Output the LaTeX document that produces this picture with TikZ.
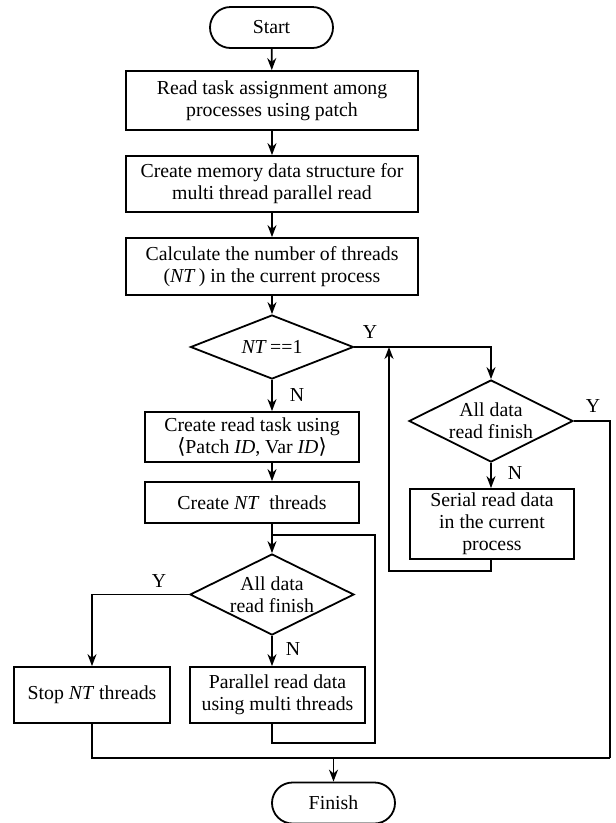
\documentclass[tikz,border=0pt]{standalone}
\usepackage{fontspec}
\setmainfont{Liberation Serif}
\newfontfamily\bracketfont{DejaVu Sans}
\usetikzlibrary{shapes.geometric,shapes.misc,arrows.meta}
\newcommand{\lang}{{\bracketfont\fontsize{21}{22}\selectfont ⟨}}
\newcommand{\rang}{{\bracketfont\fontsize{21}{22}\selectfont ⟩}}
\begin{document}
\begin{tikzpicture}[x=1pt,y=-1pt,
  every node/.style={font=\fontsize{19.8}{22}\selectfont},
  base/.style={draw, line width=1.8pt, align=center, inner sep=0pt},
  term/.style={base, rounded rectangle, minimum width=123pt, minimum height=41pt},
  box/.style={base, rectangle},
  dec/.style={base, diamond},
  lbl/.style={inner sep=0pt},
  link/.style={line width=1.8pt},
  arr/.style={link, -{Stealth[length=12pt,width=9pt]}}]
\useasboundingbox (0,0) rectangle (616,823);

% main column
\node[term] (start) at (271.5,27.5) {Start};
\node[box, minimum width=292pt, minimum height=59pt] (b1) at (272,100.5)
  {Read task assignment among\\processes using patch};
\node[box, minimum width=292pt, minimum height=56pt] (b2) at (272,184)
  {Create memory data structure for\\multi thread parallel read};
\node[box, minimum width=292pt, minimum height=57pt] (b3) at (272,266.5)
  {Calculate the number of threads\\(\textit{NT}\,) in the current process};
\node[dec, minimum width=163pt, minimum height=64pt,
  label={center:\textit{NT}\,==1}] (d1) at (272,347) {};

% multi-thread branch
\node[box, minimum width=214pt, minimum height=50pt] (b4) at (252,437)
  {Create read task using\\\lang Patch \textit{ID}, Var \textit{ID}\rang};
\node[box, minimum width=214pt, minimum height=41pt] (b5) at (252,502.5)
  {Create \textit{NT}\ \ threads};
\node[dec, minimum width=164pt, minimum height=81pt,
  label={[align=center]center:All data\\read finish}] (d3) at (272,594.5) {};
\node[box, minimum width=156pt, minimum height=56pt] (b7) at (92,695)
  {Stop \textit{NT} threads};
\node[box, minimum width=175pt, minimum height=56pt] (b8) at (277.5,695)
  {Parallel read data\\using multi threads};

% single-thread branch
\node[dec, minimum width=164pt, minimum height=82pt,
  label={[align=center]center:All data\\read finish}] (d2) at (491,421) {};
\node[box, minimum width=164pt, minimum height=70pt] (b6) at (492,524)
  {Serial read data\\in the current\\process};

\node[term] (finish) at (333.5,803) {Finish};

% branch labels
\node[lbl] (y1) at (370,332) {Y};
\node[lbl] (n1) at (297,395) {N};
\node[lbl] (y2) at (593,406) {Y};
\node[lbl] (n2) at (515,473) {N};
\node[lbl] (y3) at (159,581) {Y};
\node[lbl] (n3) at (293,649) {N};

% routing points
\coordinate (loopR) at (375,743);
\coordinate (join) at (272,535);
\coordinate (backR) at (389,571);
\coordinate (mergeR) at (610,758);

% connectors
\draw[arr] (start) -- (b1);
\draw[arr] (b1) -- (b2);
\draw[arr] (b2) -- (b3);
\draw[arr] (b3) -- (d1);
\draw[arr] (d1.east) -| (d2.north);
\draw[arr] (d1.south) -- (d1.south |- b4.north);
\draw[arr] (b4.south -| d1) -- (b5.north -| d1);
\draw[arr] (b5.south -| d3) -- (d3.north);
\draw[arr] (d3.west) -| (b7.north);
\draw[arr] (d3.south) -- (d3.south |- b8.north);
\draw[link] (b8.south -| d3) |- (loopR) |- (join);
\draw[arr] (d2.south) -- (d2.south |- b6.north);
\draw[arr] (b6.south -| d2) |- (backR) -- (backR |- d1);
\draw[link] (d2.east) -| (mergeR);
\draw[link] (b7.south) |- (mergeR);
\draw[arr] (finish.north |- mergeR) -- (finish.north);
\end{tikzpicture}
\end{document}
